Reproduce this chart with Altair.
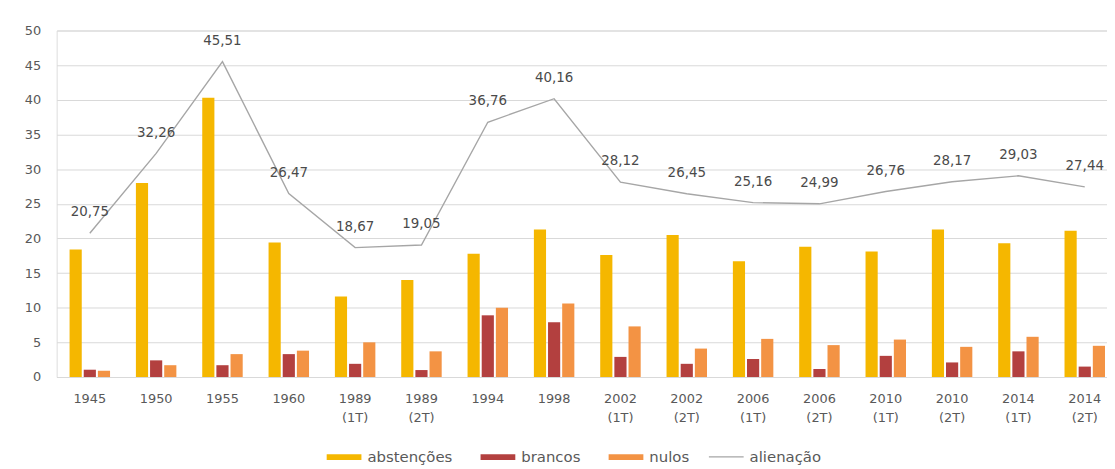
import altair as alt
import pandas as pd

categories = ["1945", "1950", "1955", "1960", "1989|(1T)", "1989|(2T)", "1994", "1998",
              "2002|(1T)", "2002|(2T)", "2006|(1T)", "2006|(2T)", "2010|(1T)", "2010|(2T)",
              "2014|(1T)", "2014|(2T)"]
abstencoes = [18.4, 28.0, 40.3, 19.4, 11.6, 14.0, 17.8, 21.3, 17.6, 20.5, 16.7, 18.8, 18.1, 21.3, 19.3, 21.1]
brancos = [1.05, 2.4, 1.7, 3.3, 1.9, 1.0, 8.9, 7.9, 2.9, 1.9, 2.6, 1.15, 3.05, 2.1, 3.7, 1.5]
nulos = [0.9, 1.7, 3.3, 3.8, 5.0, 3.7, 10.0, 10.6, 7.3, 4.1, 5.5, 4.6, 5.4, 4.35, 5.8, 4.5]
alienacao = [20.75, 32.26, 45.51, 26.47, 18.67, 19.05, 36.76, 40.16, 28.12, 26.45, 25.16, 24.99,
             26.76, 28.17, 29.03, 27.44]

series_names = ["abstenções", "brancos", "nulos"]
series_colors = ["#F5B700", "#B3403F", "#F39344"]

rows = []
for i, c in enumerate(categories):
    for name, vals in zip(series_names, [abstencoes, brancos, nulos]):
        rows.append({"cat": c, "serie": name, "v": vals[i]})
bars_df = pd.DataFrame(rows)
line_df = pd.DataFrame({"cat": categories, "v": alienacao, "serie": ["alienação"] * len(categories)})

FONT = "DejaVu Sans"
TXT = "#595959"

xscale = alt.Scale(domain=categories, paddingInner=0.36, paddingOuter=0.18, range=[0, 1069])
yscale = alt.Scale(domain=[0, 50])

xaxis = alt.Axis(title=None, labelExpr="split(datum.value, '|')", labelAngle=0, ticks=False,
                 domainColor="#d9d9d9", labelColor=TXT, labelFontSize=13, labelFont=FONT,
                 labelPadding=16, labelLineHeight=19, grid=False)
yaxis = alt.Axis(title=None, values=list(range(0, 51, 5)), ticks=False, domain=False,
                 gridColor="#d9d9d9", labelColor=TXT, labelFontSize=13, labelFont=FONT,
                 labelPadding=16, labelOverlap=False)

bars = alt.Chart(bars_df).mark_bar().encode(
    x=alt.X("cat:N", scale=xscale, axis=xaxis, sort=categories),
    xOffset=alt.XOffset("serie:N", sort=series_names,
                        scale=alt.Scale(domain=series_names, paddingInner=0.14, paddingOuter=0.07)),
    y=alt.Y("v:Q", scale=yscale, axis=yaxis),
    color=alt.Color("serie:N", sort=series_names,
                    scale=alt.Scale(domain=series_names, range=series_colors),
                    legend=alt.Legend(title=None, orient="none", legendX=271, legendY=411,
                                      direction="horizontal",
                                      symbolType="M-1,-0.17L1,-0.17L1,0.17L-1,0.17Z",
                                      symbolSize=1225, labelFontSize=15, labelColor=TXT,
                                      labelFont=FONT, columnPadding=27, symbolOffset=0,
                                      labelOffset=5)),
)

line = alt.Chart(line_df).mark_line(strokeWidth=1.4).encode(
    x=alt.X("cat:N", scale=xscale, axis=xaxis, sort=categories),
    y=alt.Y("v:Q", scale=yscale, axis=yaxis),
    color=alt.Color("serie:N", scale=alt.Scale(domain=["alienação"], range=["#A6A6A6"]),
                    legend=alt.Legend(title=None, orient="none", legendX=656, legendY=411,
                                      direction="horizontal", symbolType="stroke",
                                      symbolSize=1225, symbolStrokeWidth=1.4,
                                      labelFontSize=15, labelColor=TXT, labelFont=FONT,
                                      labelOffset=5)),
)

labels = alt.Chart(line_df).transform_calculate(
    lab="replace(format(datum.v, '.2f'), '.', ',')"
).mark_text(dy=-21, fontSize=13.5, color="#4a4a4a", font=FONT).encode(
    x=alt.X("cat:N", scale=xscale, axis=xaxis, sort=categories),
    y=alt.Y("v:Q", scale=yscale, axis=yaxis),
    text="lab:N",
)

chart = alt.layer(bars, line, labels).resolve_scale(color="independent").resolve_legend(
    color="independent"
).properties(
    width=1058, height=349,
    autosize=alt.AutoSizeParams(type="none"),
    padding={"left": 49, "top": 21, "right": 0, "bottom": 90},
).configure_view(stroke=None).configure(background="white")

chart.save("out.html", embed_options={"renderer": "svg", "actions": False})
